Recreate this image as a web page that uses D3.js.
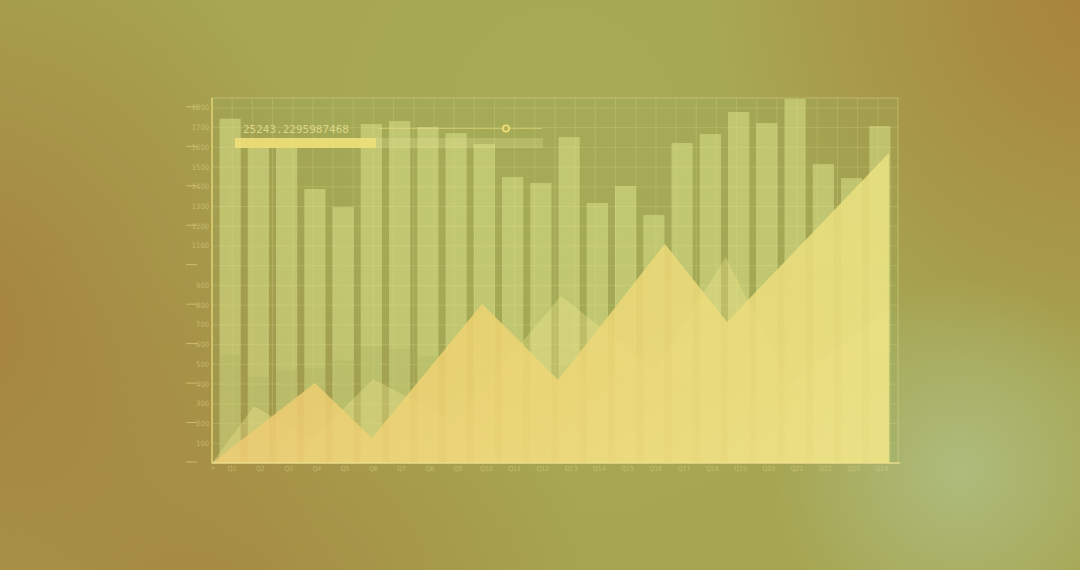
<!DOCTYPE html>
<html>
<head>
<meta charset="utf-8">
<script src="https://cdn.jsdelivr.net/npm/d3@7/dist/d3.min.js"></script>
<style>
  html, body { margin: 0; padding: 0; background: #a7a752; }
  svg { display: block; }
</style>
</head>
<body>
<svg id="chart" width="1080" height="570"></svg>
<script>
// ---------- DATA ----------
const quarters = ["Q1","Q2","Q3","Q4","Q5","Q6","Q7","Q8","Q9","Q10","Q11","Q12",
                  "Q13","Q14","Q15","Q16","Q17","Q18","Q19","Q20","Q21","Q22","Q23","Q24"];
const barValues = [1745, 1600, 1600, 1389, 1297, 1718, 1733, 1703, 1672, 1617, 1450, 1419,
                   1652, 1318, 1404, 1257, 1622, 1667, 1779, 1723, 1845, 1515, 1444, 1708];
const baseValues = [547, 436, 470, 480, 520, 590, 580, 540, 520, 480, 460, 450,
                    500, 540, 470, 460, 450, 480, 460, 440, 470, 480, 500, 560];
// area vertices: position in quarter units (Qk centre = k - 0.5) and value
const frontPos = [-0.14, 3.50, 5.52, 9.42, 12.11, 15.89, 18.09, 23.82, 23.82];
const frontVal = [0, 405, 127, 806, 421, 1110, 715, 1571, 0];
const backPos  = [-0.14, 1.35, 3.40, 5.56, 8.46, 12.21, 15.54, 18.05, 20.32, 23.82, 23.82];
const backVal  = [0, 289, 117, 426, 208, 846, 471, 1044, 395, 780, 0];
const yTickValues = [100,200,300,400,500,600,700,800,900,1100,1200,1300,1400,1500,1600,1700,1800];
const readout = "25243.2295987468";

// ---------- LAYOUT ----------
const W = 1080, H = 570;
const plot = { left: 212, right: 898, top: 98, bottom: 463 };
const svg = d3.select("#chart");
const defs = svg.append("defs");

function radial(id, cx, cy, r, color, op) {
  const g = defs.append("radialGradient").attr("id", id)
    .attr("gradientUnits", "userSpaceOnUse").attr("cx", cx).attr("cy", cy).attr("r", r);
  g.append("stop").attr("offset", "0%").attr("stop-color", color).attr("stop-opacity", op);
  g.append("stop").attr("offset", "100%").attr("stop-color", color).attr("stop-opacity", 0);
  return id;
}
radial("bgL", -60, 330, 430, "#a7813d", 1);
radial("bgTR", 1110, -10, 400, "#a9813a", 1);
radial("bgBL", 220, 640, 380, "#a6853f", 0.9);
radial("bgGlow", 960, 470, 190, "#afc084", 0.85);
radial("bgTop", 560, 120, 420, "#abae58", 0.6);

svg.append("rect").attr("width", W).attr("height", H).attr("fill", "#a6a551");
["bgTop","bgL","bgTR","bgBL","bgGlow"].forEach(id =>
  svg.append("rect").attr("width", W).attr("height", H).attr("fill", `url(#${id})`));

defs.append("filter").attr("id", "soft").attr("x", "-5%").attr("y", "-5%")
  .attr("width", "110%").attr("height", "110%")
  .append("feGaussianBlur").attr("stdDeviation", 0.7);

const fg = defs.append("linearGradient").attr("id", "frontGrad")
  .attr("gradientUnits", "userSpaceOnUse")
  .attr("x1", plot.left).attr("y1", plot.bottom).attr("x2", plot.right).attr("y2", plot.top + 140);
fg.append("stop").attr("offset", "0%").attr("stop-color", "#e6b85e");
fg.append("stop").attr("offset", "40%").attr("stop-color", "#eacb68");
fg.append("stop").attr("offset", "100%").attr("stop-color", "#e8e080");

const fv = defs.append("linearGradient").attr("id", "frontShade")
  .attr("x1", 0).attr("y1", 0).attr("x2", 0).attr("y2", 1);
fv.append("stop").attr("offset", "0%").attr("stop-color", "#f0e27a").attr("stop-opacity", 0);
fv.append("stop").attr("offset", "100%").attr("stop-color", "#f3ea9a").attr("stop-opacity", 0.3);

// ---------- SCALES ----------
const x = d3.scaleBand().domain(quarters).range([216, 894]).paddingInner(0.25).paddingOuter(0.125);
const xp = d3.scaleLinear().domain([0, 24]).range([216, 894]);
const y = d3.scaleLinear().domain([0, 1850]).range([plot.bottom, plot.top]);

const g = svg.append("g").attr("filter", "url(#soft)");

g.append("rect").attr("x", plot.left).attr("y", plot.top)
  .attr("width", plot.right - plot.left).attr("height", plot.bottom - plot.top)
  .attr("fill", "#94ac5a").attr("opacity", 0.22);

const gridX = d3.scaleLinear().domain([0, 34]).range([plot.left, plot.right]);
g.append("g").selectAll("line").data(d3.range(1, 34)).join("line")
  .attr("x1", d => gridX(d)).attr("x2", d => gridX(d))
  .attr("y1", plot.top).attr("y2", plot.bottom)
  .attr("stroke", "#e6e49a").attr("stroke-opacity", 0.2).attr("stroke-width", 1);
g.append("g").selectAll("line").data(d3.range(100, 1850, 100)).join("line")
  .attr("x1", plot.left).attr("x2", plot.right)
  .attr("y1", d => y(d)).attr("y2", d => y(d))
  .attr("stroke", "#e6e49a").attr("stroke-opacity", 0.2).attr("stroke-width", 1);

g.append("g").selectAll("rect").data(quarters).join("rect")
  .attr("x", d => x(d)).attr("width", x.bandwidth())
  .attr("y", (d, i) => y(barValues[i]))
  .attr("height", (d, i) => y(0) - y(barValues[i]))
  .attr("fill", "#e0e68e").attr("fill-opacity", 0.44);

g.append("g").selectAll("rect").data(quarters).join("rect")
  .attr("x", d => x(d)).attr("width", x.bandwidth())
  .attr("y", (d, i) => y(baseValues[i]))
  .attr("height", (d, i) => y(0) - y(baseValues[i]))
  .attr("fill", "#8a9c4c").attr("fill-opacity", 0.15);

const line = d3.line().x(d => xp(d[0])).y(d => y(d[1]));
const backPts = backPos.map((p, i) => [p, backVal[i]]);
const frontPts = frontPos.map((p, i) => [p, frontVal[i]]);

g.append("path").attr("d", line(backPts) + "Z")
  .attr("fill", "#efe68c").attr("fill-opacity", 0.34);
g.append("path").attr("d", line(frontPts) + "Z")
  .attr("fill", "url(#frontGrad)").attr("fill-opacity", 0.87);
g.append("path").attr("d", line(frontPts) + "Z")
  .attr("fill", "url(#frontShade)");

g.append("g").selectAll("rect").data(quarters).join("rect")
  .attr("x", d => x(d)).attr("width", x.bandwidth())
  .attr("y", (d, i) => y(barValues[i]))
  .attr("height", (d, i) => y(0) - y(barValues[i]))
  .attr("fill", "#f4ee9e").attr("fill-opacity", 0.08);

g.append("rect").attr("x", plot.left).attr("y", plot.top)
  .attr("width", plot.right - plot.left).attr("height", plot.bottom - plot.top)
  .attr("fill", "none").attr("stroke", "#e8e296").attr("stroke-opacity", 0.4);
g.append("line").attr("x1", plot.left).attr("x2", plot.left)
  .attr("y1", plot.top).attr("y2", plot.bottom)
  .attr("stroke", "#ecdc7c").attr("stroke-opacity", 0.75).attr("stroke-width", 1.5);
g.append("line").attr("x1", plot.left).attr("x2", plot.right + 2)
  .attr("y1", plot.bottom).attr("y2", plot.bottom)
  .attr("stroke", "#f0e290").attr("stroke-opacity", 0.8).attr("stroke-width", 1.5);

g.append("rect").attr("x", 235).attr("y", 138).attr("width", 141).attr("height", 10)
  .attr("fill", "#efe079").attr("fill-opacity", 0.9);
g.append("rect").attr("x", 376).attr("y", 138).attr("width", 167).attr("height", 10)
  .attr("fill", "#e6e196").attr("fill-opacity", 0.28);
g.append("line").attr("x1", 378).attr("x2", 542).attr("y1", 128.5).attr("y2", 128.5)
  .attr("stroke", "#e8dc80").attr("stroke-opacity", 0.55);
g.append("circle").attr("cx", 506).attr("cy", 128.5).attr("r", 3.2)
  .attr("fill", "#b5b25c").attr("stroke", "#f0e07a").attr("stroke-width", 1.6);

svg.append("text").attr("x", 243).attr("y", 132.5)
  .attr("font-family", "DejaVu Sans Mono, monospace").attr("font-size", 11)
  .attr("fill", "#e6e092").attr("fill-opacity", 0.85)
  .text(readout);

const yAxis = svg.append("g");
yAxis.selectAll("line.major").data(d3.range(0, 1900, 200)).join("line")
  .attr("class", "major")
  .attr("x1", 186).attr("x2", 197)
  .attr("y1", d => y(d) - 1).attr("y2", d => y(d) - 1)
  .attr("stroke", "#ead98a").attr("stroke-opacity", 0.6);
yAxis.selectAll("text").data(yTickValues).join("text")
  .attr("x", 209).attr("y", d => y(d) + 2.5)
  .attr("text-anchor", "end")
  .attr("font-family", "DejaVu Sans Condensed, DejaVu Sans, sans-serif").attr("font-size", 7.5)
  .attr("fill", "#e4d98e").attr("fill-opacity", 0.55)
  .text(d => d);

const xAxis = svg.append("g");
xAxis.selectAll("text").data(quarters).join("text")
  .attr("x", d => x(d) + x.bandwidth() / 2 + 2).attr("y", 470.5)
  .attr("text-anchor", "middle")
  .attr("font-family", "DejaVu Sans Condensed, DejaVu Sans, sans-serif").attr("font-size", 7)
  .attr("fill", "#e4d98e").attr("fill-opacity", 0.5)
  .text(d => d);
xAxis.append("line").attr("x1", plot.left - 1).attr("x2", plot.left + 3)
  .attr("y1", 468).attr("y2", 468).attr("stroke", "#e4d98e").attr("stroke-opacity", 0.5);
</script>
</body>
</html>
